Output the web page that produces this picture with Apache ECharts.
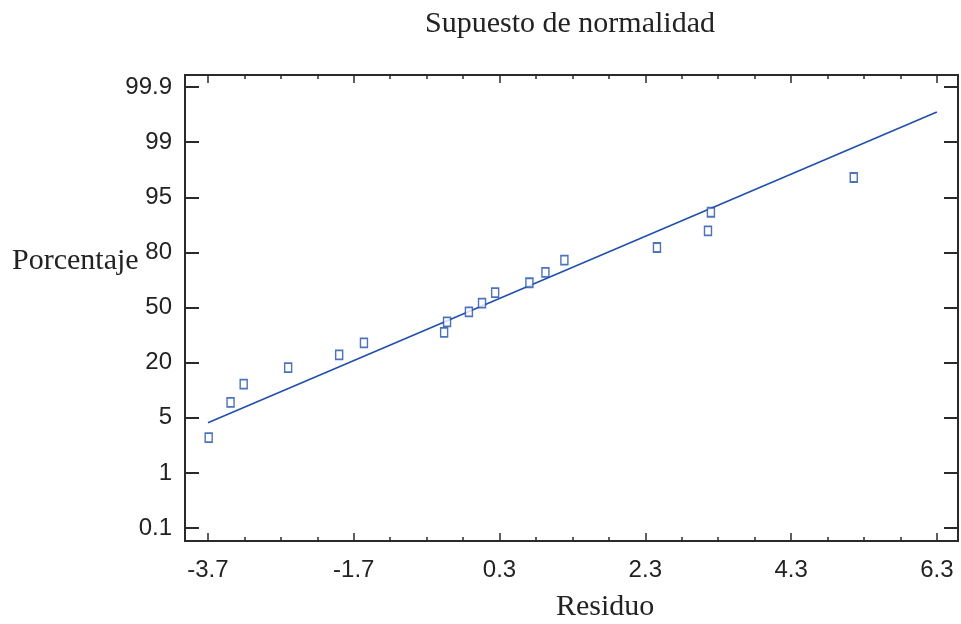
<!DOCTYPE html>
<html>
<head>
<meta charset="utf-8">
<script src="https://cdn.jsdelivr.net/npm/echarts@6/dist/echarts.min.js"></script>
<style>
  html, body { margin: 0; padding: 0; background: #fff; }
  #chart { width: 961px; height: 624px; }
</style>
</head>
<body>
<div id="chart"></div>
<script>
// 刻度
const xMajorTicks = [-3.7, -1.7, 0.3, 2.3, 4.3, 6.3];
const xMinorTicks = [-3.2, -2.7, -2.2, -1.2, -0.7, -0.2, 0.8, 1.3, 1.8, 2.8, 3.3, 3.8, 4.8, 5.3, 5.8];
const yTickLabels = ['0.1', '1', '5', '20', '50', '80', '95', '99', '99.9'];
const yTickPos = [0, 1, 2, 3, 4, 5, 6, 7, 8];

// 残差 (x) 与 百分比位置 (y, 按刻度序号)
const residuo = [-3.69, -3.39, -3.21, -2.60, -1.90, -1.56, -0.46, -0.42, -0.12, 0.06, 0.24, 0.71, 0.93, 1.19, 2.46, 3.16, 3.20, 5.16];
const porcentaje = [1.64, 2.28, 2.61, 2.91, 3.14, 3.36, 3.55, 3.74, 3.92, 4.08, 4.27, 4.45, 4.64, 4.86, 5.09, 5.39, 5.73, 6.36];

// 参考直线
const lineX = [-3.7, 6.3];
const lineY = [1.91, 7.55];

const BLUE = '#2050aa';
const FRAME = '#2a2a2a';
const X_MIN = -4.015, X_MAX = 6.59;
const Y_MIN = -0.236, Y_MAX = 8.22;
const SERIF = '30px "Liberation Serif", "Times New Roman", serif';
const SANS = 'Liberation Sans Narrow, Liberation Sans, Arial';

const chart = echarts.init(document.getElementById('chart'));

function xAxisDef(pos, ticks, len, showLabel) {
    return {
        type: 'value',
        position: pos,
        min: X_MIN,
        max: X_MAX,
        axisLine: { show: true, onZero: false, lineStyle: { color: FRAME, width: 2 } },
        axisTick: { show: true, inside: true, length: len, customValues: ticks, lineStyle: { color: FRAME, width: 1.5 } },
        axisLabel: {
            show: showLabel,
            customValues: ticks,
            formatter: function(v) { return v.toFixed(1); },
            fontFamily: SANS,
            fontSize: 24,
            color: '#222',
            margin: 17
        },
        splitLine: { show: false }
    };
}

function yAxisDef(pos, showLabel) {
    return {
        type: 'value',
        position: pos,
        min: Y_MIN,
        max: Y_MAX,
        axisLine: { show: true, onZero: false, lineStyle: { color: FRAME, width: 2 } },
        axisTick: { show: true, inside: true, length: 14, customValues: yTickPos, lineStyle: { color: FRAME, width: 2 } },
        axisLabel: {
            show: showLabel,
            customValues: yTickPos,
            formatter: function(v) { return yTickLabels[Math.round(v)]; },
            fontFamily: SANS,
            fontSize: 24,
            color: '#222',
            margin: 13
        },
        splitLine: { show: false }
    };
}

const option = {
    backgroundColor: '#fff',
    animation: false,
    grid: { left: 185, right: 3, top: 75, bottom: 83, containLabel: false },
    graphic: [
        { type: 'text', left: 425, top: 9, style: { text: 'Supuesto de normalidad', font: SERIF, fill: '#222' } },
        { type: 'text', left: 12, top: 246, style: { text: 'Porcentaje', font: SERIF, fill: '#222' } },
        { type: 'text', left: 556, top: 592, style: { text: 'Residuo', font: SERIF, fill: '#222' } }
    ],
    xAxis: [
        xAxisDef('bottom', xMajorTicks, 8, true),
        xAxisDef('bottom', xMinorTicks, 4, false),
        xAxisDef('top', xMajorTicks, 8, false),
        xAxisDef('top', xMinorTicks, 4, false)
    ],
    yAxis: [
        yAxisDef('left', true),
        yAxisDef('right', false)
    ],
    series: [
        {
            type: 'line',
            xAxisIndex: 0,
            yAxisIndex: 0,
            showSymbol: false,
            lineStyle: { color: BLUE, width: 1.6 },
            data: lineX.map(function(x, i) { return [x, lineY[i]]; }),
            z: 2
        },
        {
            type: 'scatter',
            xAxisIndex: 0,
            yAxisIndex: 0,
            symbol: 'rect',
            symbolSize: [7, 9],
            itemStyle: { color: '#fff', borderColor: BLUE, borderWidth: 1.6 },
            data: residuo.map(function(x, i) { return [x, porcentaje[i]]; }),
            z: 3
        }
    ]
};

chart.setOption(option);
</script>
</body>
</html>
